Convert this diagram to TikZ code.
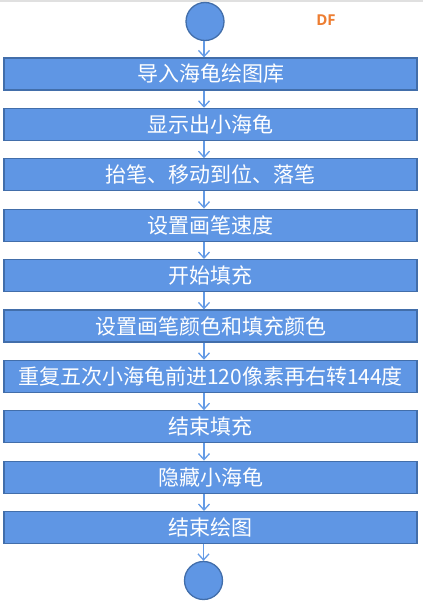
\documentclass[tikz,border=0pt]{standalone}
\usepackage{fontspec}
\newfontfamily\cjk{Noto Sans CJK SC}
\newfontfamily\dffont{Open Sans}
\usetikzlibrary{positioning, arrows.meta, calc}

\definecolor{boxfill}{RGB}{95,150,228}
\definecolor{boxline}{RGB}{66,110,170}
\definecolor{arrowblue}{RGB}{100,155,230}
\definecolor{dforange}{RGB}{237,125,49}

\begin{document}
\begin{tikzpicture}[node distance=50.4pt, auto,
  stepbox/.style={draw=boxline, line width=1.3pt, fill=boxfill, rectangle,
    minimum width=413pt, minimum height=32pt, inner sep=0pt, text=white,
    font=\cjk\fontsize{21}{21}\selectfont},
  endpoint/.style={draw=boxline, line width=1.3pt, fill=boxfill, circle,
    minimum size=38pt, inner sep=0pt},
  flow/.style={draw=arrowblue, line width=1.3pt,
    -{Straight Barb[length=6pt,width=11pt,line width=1.3pt]}}]
  \useasboundingbox (0,0) rectangle (423pt,-602pt);
  \fill[black!12] (0,0) rectangle (423pt,-2pt);

  \node[endpoint] (start) at (205pt,-21.5pt) {};
  \node[text=dforange, font=\dffont\bfseries\fontsize{15}{15}\selectfont] (df) at (326pt,-20pt) {DF};

  \node[stepbox] (s1) at (210.5pt,-74pt) {导入海龟绘图库};
  \node[stepbox] (s2) [below of=s1] {显示出小海龟};
  \node[stepbox] (s3) [below of=s2] {抬笔、移动到位、落笔};
  \node[stepbox] (s4) [below of=s3] {设置画笔速度};
  \node[stepbox] (s5) [below of=s4] {开始填充};
  \node[stepbox] (s6) [below of=s5] {设置画笔颜色和填充颜色};
  \node[stepbox] (s7) [below of=s6] {重复五次小海龟前进120像素再右转144度};
  \node[stepbox] (s8) [below of=s7] {结束填充};
  \node[stepbox] (s9) [below of=s8] {隐藏小海龟};
  \node[stepbox] (s10) [below of=s9] {结束绘图};

  \node[endpoint] (stop) at (203.5pt,-580.5pt) {};

  \draw[flow] (start.south -| 204pt,0) -- (s1.north -| 204pt,0);
  \draw[flow] (s1.south -| 204pt,0) -- (s2.north -| 204pt,0);
  \draw[flow] (s2.south -| 204pt,0) -- (s3.north -| 204pt,0);
  \draw[flow] (s3.south -| 204pt,0) -- (s4.north -| 204pt,0);
  \draw[flow] (s4.south -| 204pt,0) -- (s5.north -| 204pt,0);
  \draw[flow] (s5.south -| 204pt,0) -- (s6.north -| 204pt,0);
  \draw[flow] (s6.south -| 204pt,0) -- (s7.north -| 204pt,0);
  \draw[flow] (s7.south -| 204pt,0) -- (s8.north -| 204pt,0);
  \draw[flow] (s8.south -| 204pt,0) -- (s9.north -| 204pt,0);
  \draw[flow] (s9.south -| 204pt,0) -- (s10.north -| 204pt,0);
  \draw[flow] (s10.south -| stop) -- (stop);
\end{tikzpicture}
\end{document}
